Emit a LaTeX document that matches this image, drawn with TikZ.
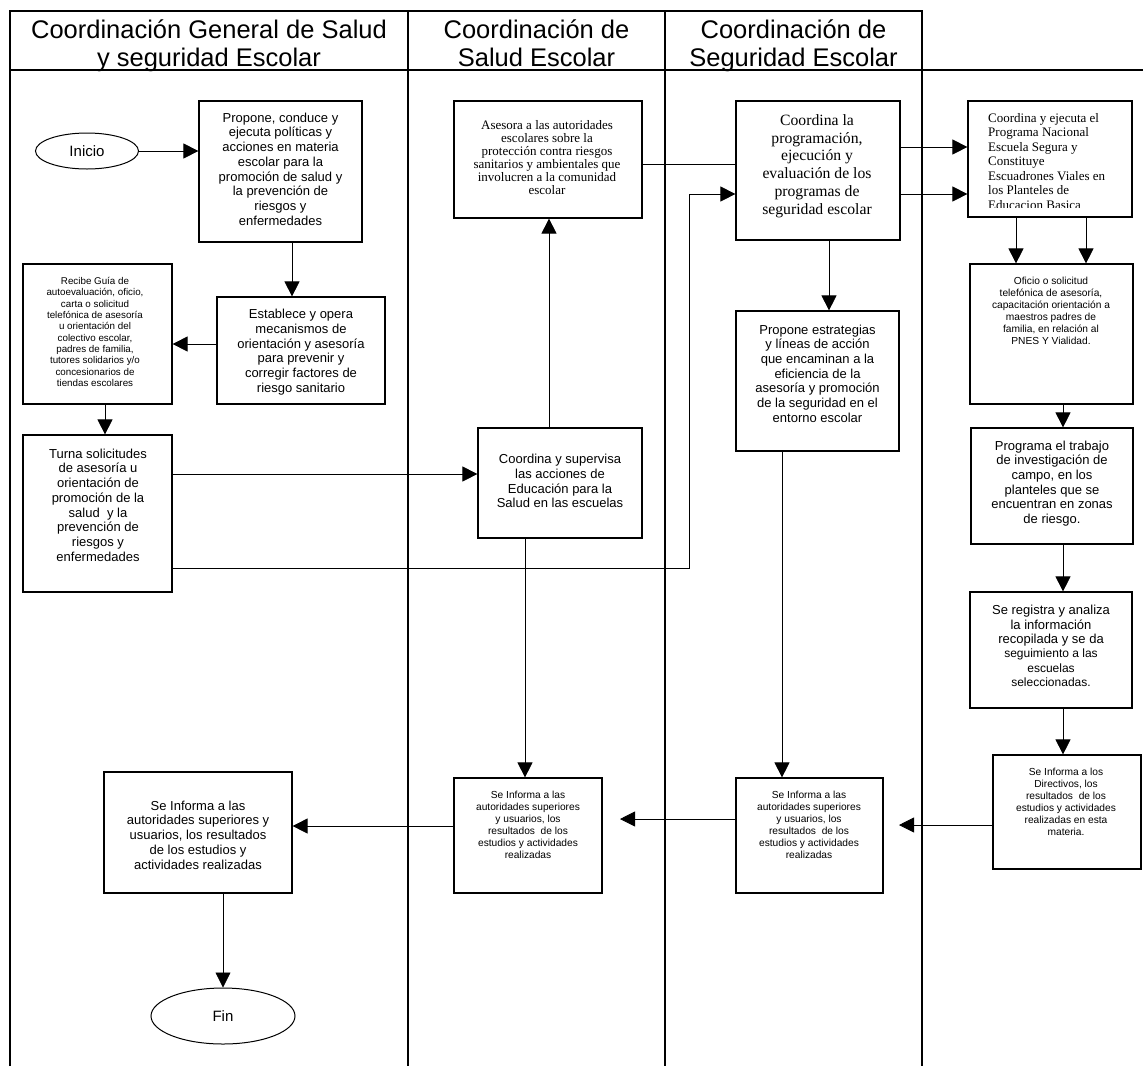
\documentclass[tikz,border=0pt]{standalone}
\usepackage{fontspec}
\setmainfont{Liberation Sans}
\newfontfamily\serifface{Liberation Serif}
\usetikzlibrary{arrows.meta,shapes.geometric,fit}
\newcommand\myfs[2]{\fontsize{#1}{#2}\selectfont}
\begin{document}
\begin{tikzpicture}[x=1pt,y=-1pt,
  lane/.style={line width=2pt},
  box/.style={draw, line width=1.2pt, inner sep=0pt, rectangle},
  oval/.style={draw, ellipse, line width=1pt, inner sep=0pt, font=\myfs{15}{18}},
  conn/.style={line width=0.8pt},
  arr/.style={conn, -{Triangle[length=15pt,width=15pt]}},
  txt/.style={inner sep=0pt, align=center},
  hdr/.style={txt, font=\myfs{25.5}{28}},
  tA/.style={txt, font=\myfs{13}{14.7}},
  tB/.style={txt, font=\myfs{10.2}{12}},
  tC/.style={txt, font=\myfs{9.8}{11.35}},
  sA/.style={txt, font=\serifface\myfs{13}{13}},
  sB/.style={txt, font=\serifface\myfs{15.7}{17.7}},
]
\useasboundingbox (0,0) rectangle (1143,1066);

% lanes and header
\draw[lane] (10,1066) -- (10,11) -- (922,11) -- (922,1066);
\draw[lane] (408,11) -- (408,1066);
\draw[lane] (665,11) -- (665,1066);
\draw[lane] (10,70) -- (1143,70);
\node[hdr] (h1) at (209,47) {\strut Coordinación General de Salud\\y seguridad Escolar\strut};
\node[hdr] (h2) at (536.5,47) {\strut Coordinación de\\Salud Escolar\strut};
\node[hdr] (h3) at (793.5,47) {\strut Coordinación de\\Seguridad Escolar\strut};

% guide coordinates
\coordinate (g292) at (292,0);
\coordinate (g105) at (105,0);
\coordinate (g549) at (549,0);
\coordinate (g525) at (525,0);
\coordinate (g829) at (829,0);
\coordinate (g782) at (782,0);
\coordinate (g1016) at (1016,0);
\coordinate (g1086) at (1086,0);
\coordinate (g1063) at (1063,0);
\coordinate (h344) at (0,344);
\coordinate (h474) at (0,474);
\coordinate (h568) at (0,568);
\coordinate (h164) at (0,164);
\coordinate (h147) at (0,147);
\coordinate (h194) at (0,194);
\coordinate (h826) at (0,826);
\coordinate (k1) at (689,194);
\coordinate (t3) at (899,825);
\coordinate (t2) at (620,819);

% lane 1
\node[oval, minimum width=103pt, minimum height=36pt] (ini) at (87,151) {Inicio};
\node[box, fit={(199,101) (362,242)}] (p1) {};
\node[tA] (p1t) at (280.5,169) {Propone, conduce y\\ejecuta políticas y\\acciones en materia\\escolar para la\\promoción de salud y\\la prevención de\\riesgos y\\enfermedades};
\node[box, fit={(217,297) (385,404)}] (est) {};
\node[tA] (estt) at (301,352) {Establece y opera\\mecanismos de\\orientación y asesoría\\para prevenir y\\corregir factores de\\riesgo sanitario};
\node[box, fit={(23,264) (172,404)}] (rec) {};
\node[tC] (rect) at (95,332) {Recibe Guía de\\autoevaluación, oficio,\\carta o solicitud\\telefónica de asesoría\\u orientación del\\colectivo escolar,\\padres de familia,\\tutores solidarios y/o\\concesionarios de\\tiendas escolares};
\node[box, fit={(23,435) (172,592)}] (turna) {};
\node[tA] (turnat) at (98,505) {Turna solicitudes\\de asesoría u\\orientación de\\promoción de la\\salud \ y la\\prevención de\\riesgos y\\enfermedades};
\node[box, fit={(104,772) (292,893)}] (sei1) {};
\node[tA] (sei1t) at (198,835) {Se Informa a las\\autoridades superiores y\\usuarios, los resultados\\de los estudios y\\actividades realizadas};
\node[oval, minimum width=144pt, minimum height=56pt] (fin) at (223,1016) {Fin};

% lane 2
\node[box, fit={(454,101) (642,218)}] (ase) {};
\node[sA] (aset) at (547,158) {Asesora a las autoridades\\escolares sobre la\\protección contra riesgos\\sanitarios y ambientales que\\involucren a la comunidad\\escolar};
\node[box, fit={(478,428) (642,538)}] (sup) {};
\node[tA] (supt) at (560,481) {Coordina y supervisa\\las acciones de\\Educación para la\\Salud en las escuelas};
\node[box, fit={(454,778) (602,893)}] (sei2) {};
\node[tB] (sei2t) at (528,824.5) {Se Informa a las\\autoridades superiores\\y usuarios, los\\resultados \ de los\\estudios y actividades\\realizadas};

% lane 3
\node[box, fit={(736,101) (900,240)}] (cprog) {};
\node[sB] (cprogt) at (817,166) {Coordina la\\programación,\\ejecución y\\evaluación de los\\programas de\\seguridad escolar};
\node[box, fit={(736,311) (899,451)}] (prop) {};
\node[tA] (propt) at (817.5,373.5) {Propone estrategias\\y líneas de acción\\que encaminan a la\\eficiencia de la\\asesoría y promoción\\de la seguridad en el\\entorno escolar};
\node[box, fit={(736,778) (883,893)}] (sei3) {};
\node[tB] (sei3t) at (809,824.5) {Se Informa a las\\autoridades superiores\\y usuarios, los\\resultados \ de los\\estudios y actividades\\realizadas};

% lane 4
\node[box, fit={(968,101) (1132,217)}] (pnes) {};
\begin{scope}
\clip (969,102) rectangle (1131,207);
\node[txt, align=left, anchor=north west, font=\serifface\myfs{13}{14.5}] (pnest) at (988,113) {Coordina y ejecuta el\\Programa Nacional\\Escuela Segura y\\Constituye\\Escuadrones Viales en\\los Planteles de\\Educacion Basica};
\end{scope}
\node[box, fit={(970,264) (1133,404)}] (ofi) {};
\node[tB] (ofit) at (1051,311) {Oficio o solicitud\\telefónica de asesoría,\\capacitación orientación a\\maestros padres de\\familia, en relación al\\PNES Y Vialidad.};
\node[box, fit={(971,428) (1133,544)}] (prog) {};
\node[tA] (progt) at (1052,483.5) {Programa el trabajo\\de investigación de\\campo, en los\\planteles que se\\encuentran en zonas\\de riesgo.};
\node[box, fit={(970,592) (1132,708)}] (reg) {};
\node[txt, font=\myfs{13}{14.3}] (regt) at (1051,646) {Se registra y analiza\\la información\\recopilada y se da\\\myfs{12}{14.3}seguimiento a las\\\myfs{12}{14.3}escuelas\\\myfs{12}{14.3}seleccionadas.};
\node[box, fit={(993,755) (1141,869)}] (sei4) {};
\node[tB] (sei4t) at (1066,801.5) {Se Informa a los\\Directivos, los\\resultados \ de los\\estudios y actividades\\realizadas en esta\\materia.};

% connectors
\draw[arr] (ini.east) -- (ini.east -| p1.west);
\draw[arr] (p1.south -| g292) -- (est.north -| g292);
\draw[arr] (est.west |- h344) -- (rec.east |- h344);
\draw[arr] (rec.south -| g105) -- (turna.north -| g105);
\draw[arr] (turna.east |- h474) -- (sup.west |- h474);
\draw[arr] (turna.east |- h568) -| (k1) -- (cprog.west |- k1);
\draw[conn] (ase.east |- h164) -- (cprog.west |- h164);
\draw[arr] (sup.north -| g549) -- (ase.south -| g549);
\draw[arr] (sup.south -| g525) -- (sei2.north -| g525);
\draw[arr] (cprog.east |- h147) -- (pnes.west |- h147);
\draw[arr] (cprog.east |- h194) -- (pnes.west |- h194);
\draw[arr] (cprog.south -| g829) -- (prop.north -| g829);
\draw[arr] (prop.south -| g782) -- (sei3.north -| g782);
\draw[arr] (pnes.south -| g1016) -- (ofi.north -| g1016);
\draw[arr] (pnes.south -| g1086) -- (ofi.north -| g1086);
\draw[arr] (ofi.south -| g1063) -- (prog.north -| g1063);
\draw[arr] (prog.south -| g1063) -- (reg.north -| g1063);
\draw[arr] (reg.south -| g1063) -- (sei4.north -| g1063);
\draw[arr] (sei4.west |- t3) -- (t3);
\draw[arr] (sei3.west |- t2) -- (t2);
\draw[arr] (sei2.west |- h826) -- (sei1.east |- h826);
\draw[arr] (sei1.south -| fin.north) -- (fin.north);
\end{tikzpicture}
\end{document}
